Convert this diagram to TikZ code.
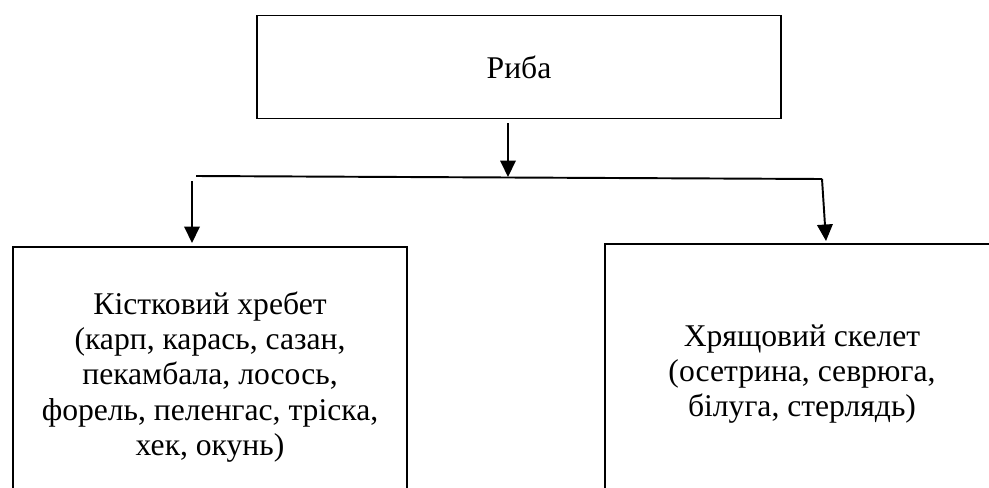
\documentclass[tikz,border=0pt]{standalone}
\usepackage{fontspec}
\setmainfont{Liberation Serif}
\usetikzlibrary{arrows.meta}
\begin{document}
\begin{tikzpicture}[x=0.02cm,y=-0.02cm,
    box/.style={draw,line width=1.1pt,align=center,inner sep=0pt,
      font=\fontsize{18}{20}\selectfont},
    arr/.style={line width=1.1pt,-{Triangle[length=0.33cm,width=0.31cm]}}]
  \useasboundingbox (0,0) rectangle (989,487);
  \clip (0,0) rectangle (989,487);
  % boxes
  \node[box,minimum width=10.48cm,minimum height=2.06cm] (riba) at (519,67) {Риба};
  \node[box,minimum width=7.88cm,minimum height=5.2cm] (kist) at (210,377)
    {Кістковий хребет\\ (карп, карась, сазан,\\ пекамбала, лосось,\\ форель, пеленгас, тріска,\\ хек, окунь)};
  \node[box,minimum width=7.9cm,minimum height=5.2cm] (khr) at (802,374)
    {Хрящовий скелет\\ (осетрина, севрюга,\\ білуга, стерлядь)};
  % connectors
  \coordinate (a0) at (508,123);
  \coordinate (j) at (508,177);
  \coordinate (hl) at (196,176);
  \coordinate (hr) at (822,179);
  \coordinate (l0) at (192,181);
  \coordinate (l1) at (192,243);
  \coordinate (r1) at (826,241);
  \draw[arr] (a0) -- (j);
  \draw[line width=1.1pt] (hl) -- (hr);
  \draw[arr] (l0) -- (l1);
  \draw[arr] (hr) -- (r1);
\end{tikzpicture}
\end{document}
